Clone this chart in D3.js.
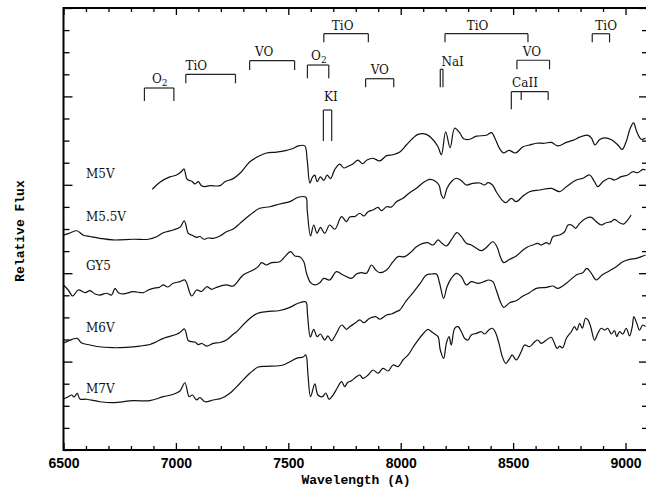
<!DOCTYPE html>
<html>
<head>
<meta charset="utf-8">
<script src="https://cdn.jsdelivr.net/npm/d3@7/dist/d3.min.js"></script>
<style>
  html, body { margin: 0; padding: 0; background: #fff; }
  svg { display: block; }
</style>
</head>
<body>
<svg id="chart" width="646" height="491"></svg>
<script>
// ---------------- DATA ----------------
// Wavelength (Angstrom) and relative flux (offset for display)
const seriesNames = ["M5V", "M5.5V", "GY5", "M6V", "M7V"];
const seriesLabelWave = 6600;
const seriesLabelFlux = [3.08, 2.585, 2.04, 1.336, 0.65];

const m5v = [
[6895,2.95],[6929,3.03],[6973,3.09],[7003,3.11],[7025,3.15],[7036,3.18],[7048,3.07],[7059,3.05],[7071,3.04],[7085,3.01],
[7099,3.035],[7114,2.99],[7129,2.98],[7151,2.99],[7196,2.99],[7218,3.035],[7255,3.07],[7285,3.13],[7329,3.26],[7366,3.32],
[7403,3.36],[7448,3.37],[7492,3.39],[7521,3.41],[7544,3.44],[7573,3.44],[7584,3.28],[7596,3.02],[7608,3.09],[7618,3.11],
[7628,3.035],[7643,3.09],[7658,3.05],[7673,3.11],[7688,3.07],[7707,3.175],[7729,3.235],[7747,3.19],[7766,3.21],[7787,3.235],
[7810,3.28],[7830,3.24],[7850,3.28],[7877,3.30],[7907,3.27],[7937,3.33],[7966,3.34],[7996,3.37],[8025,3.45],[8055,3.53],
[8077,3.57],[8114,3.57],[8144,3.51],[8166,3.43],[8181,3.34],[8200,3.60],[8220,3.42],[8240,3.64],[8262,3.59],[8280,3.52],
[8307,3.515],[8337,3.55],[8381,3.56],[8404,3.59],[8422,3.51],[8440,3.41],[8458,3.36],[8481,3.39],[8511,3.36],[8544,3.43],
[8573,3.45],[8603,3.47],[8640,3.47],[8670,3.48],[8699,3.44],[8737,3.48],[8773,3.51],[8796,3.54],[8833,3.56],[8848,3.53],
[8865,3.45],[8884,3.51],[8907,3.53],[8937,3.51],[8966,3.45],[8985,3.40],[9003,3.49],[9021,3.64],[9036,3.70],[9050,3.60],
[9070,3.515],[9089,3.53]
];

const m55v = [
[6500,2.43],[6529,2.455],[6559,2.48],[6588,2.43],[6618,2.415],[6662,2.395],[6721,2.376],[6810,2.384],[6877,2.384],[6914,2.413],
[6944,2.458],[6988,2.489],[7018,2.519],[7037,2.591],[7055,2.451],[7070,2.432],[7092,2.406],[7107,2.415],[7124,2.384],[7142,2.398],
[7166,2.395],[7196,2.421],[7225,2.469],[7255,2.50],[7285,2.564],[7329,2.658],[7373,2.734],[7418,2.752],[7462,2.783],[7507,2.809],
[7544,2.859],[7578,2.859],[7584,2.715],[7599,2.421],[7613,2.545],[7628,2.451],[7643,2.519],[7662,2.451],[7684,2.545],[7707,2.497],
[7737,2.639],[7759,2.583],[7773,2.636],[7796,2.641],[7818,2.678],[7836,2.647],[7855,2.696],[7877,2.715],[7899,2.745],[7914,2.707],
[7937,2.752],[7959,2.749],[7981,2.809],[8010,2.847],[8040,2.911],[8070,2.96],[8099,3.024],[8129,3.062],[8151,3.046],[8170,2.998],
[8181,2.885],[8191,2.847],[8206,2.96],[8225,3.035],[8248,3.074],[8270,3.046],[8292,2.998],[8321,3.017],[8351,3.02],[8373,2.998],
[8388,3.024],[8408,2.998],[8425,2.922],[8448,2.836],[8467,2.798],[8492,2.847],[8514,2.809],[8544,2.873],[8573,2.922],[8618,2.941],
[8670,2.96],[8707,2.922],[8737,2.979],[8781,3.054],[8810,3.074],[8840,3.111],[8862,3.035],[8877,2.979],[8899,3.035],[8929,3.074],
[8951,3.054],[8981,3.092],[9010,3.111],[9032,3.148],[9055,3.137],[9077,3.175],[9089,3.167]
];

const gy5 = [
[6500,1.867],[6521,1.81],[6541,1.742],[6566,1.81],[6596,1.78],[6618,1.802],[6640,1.765],[6662,1.753],[6692,1.773],[6714,1.753],
[6729,1.829],[6744,1.78],[6766,1.765],[6810,1.791],[6855,1.78],[6877,1.81],[6899,1.829],[6926,1.84],[6944,1.867],[6964,1.844],
[6988,1.886],[7018,1.904],[7040,1.923],[7070,1.742],[7092,1.81],[7114,1.793],[7137,1.847],[7159,1.818],[7181,1.84],[7225,1.867],
[7255,1.855],[7299,1.98],[7344,2.036],[7366,2.074],[7381,2.119],[7403,2.093],[7425,2.119],[7462,2.13],[7485,2.187],[7510,2.244],
[7529,2.195],[7551,2.187],[7569,2.13],[7581,1.999],[7599,1.893],[7618,1.867],[7640,1.893],[7658,1.942],[7684,1.923],[7714,2.017],
[7744,1.98],[7781,1.942],[7803,1.991],[7825,2.006],[7848,1.999],[7870,2.093],[7889,2.036],[7907,2.006],[7937,2.036],[7966,2.13],
[7988,2.187],[8018,2.187],[8048,2.244],[8070,2.30],[8099,2.338],[8121,2.345],[8144,2.319],[8166,2.376],[8181,2.345],[8203,2.308],
[8225,2.376],[8250,2.458],[8270,2.413],[8292,2.338],[8314,2.319],[8337,2.282],[8359,2.255],[8381,2.291],[8410,2.356],[8428,2.30],
[8443,2.187],[8458,2.119],[8485,2.157],[8514,2.195],[8544,2.262],[8566,2.30],[8588,2.319],[8610,2.338],[8625,2.319],[8648,2.345],
[8662,2.33],[8677,2.413],[8707,2.432],[8729,2.469],[8744,2.545],[8760,2.545],[8778,2.508],[8796,2.564],[8825,2.621],[8848,2.632],
[8870,2.583],[8892,2.545],[8914,2.571],[8937,2.583],[8951,2.61],[8973,2.571],[8991,2.556],[9010,2.602],[9025,2.658]
];

const m6v = [
[6500,1.21],[6521,1.233],[6538,1.252],[6561,1.263],[6581,1.21],[6618,1.188],[6648,1.171],[6721,1.157],[6781,1.162],[6840,1.176],
[6884,1.193],[6914,1.225],[6944,1.263],[7003,1.31],[7018,1.329],[7038,1.369],[7055,1.239],[7070,1.225],[7085,1.222],[7099,1.193],
[7116,1.205],[7137,1.176],[7166,1.207],[7196,1.216],[7225,1.244],[7255,1.309],[7270,1.338],[7314,1.454],[7359,1.542],[7403,1.565],
[7462,1.578],[7507,1.614],[7544,1.66],[7578,1.674],[7585,1.546],[7598,1.278],[7613,1.365],[7628,1.282],[7643,1.312],[7662,1.244],
[7676,1.29],[7692,1.237],[7714,1.32],[7737,1.414],[7759,1.365],[7773,1.395],[7796,1.433],[7818,1.471],[7836,1.44],[7862,1.49],
[7889,1.508],[7907,1.479],[7937,1.527],[7959,1.538],[7981,1.565],[7996,1.584],[8025,1.689],[8055,1.78],[8085,1.878],[8114,1.98],
[8137,1.991],[8159,1.991],[8173,1.886],[8191,1.716],[8206,1.847],[8225,1.942],[8248,1.999],[8270,1.961],[8292,1.867],[8314,1.904],
[8344,1.886],[8366,1.90],[8392,1.923],[8410,1.904],[8425,1.81],[8443,1.678],[8458,1.614],[8485,1.666],[8514,1.689],[8544,1.742],
[8573,1.78],[8603,1.829],[8648,1.84],[8677,1.855],[8699,1.829],[8737,1.886],[8781,1.98],[8810,2.006],[8828,2.055],[8848,1.999],
[8870,1.923],[8896,1.98],[8929,2.028],[8959,2.074],[8988,2.13],[9018,2.157],[9048,2.168],[9070,2.187],[9089,2.206]
];

const m7v = [
[6500,0.577],[6521,0.603],[6536,0.622],[6547,0.60],[6561,0.641],[6573,0.577],[6603,0.574],[6662,0.546],[6721,0.535],[6810,0.558],
[6884,0.558],[6944,0.603],[6988,0.63],[7018,0.668],[7040,0.761],[7059,0.603],[7073,0.622],[7092,0.566],[7107,0.594],[7129,0.546],
[7166,0.566],[7203,0.585],[7240,0.641],[7285,0.755],[7329,0.868],[7366,0.939],[7403,0.947],[7448,0.95],[7477,0.962],[7507,0.999],
[7536,1.037],[7566,1.052],[7578,1.075],[7587,0.868],[7599,0.603],[7618,0.747],[7632,0.622],[7652,0.603],[7667,0.645],[7681,0.574],
[7699,0.622],[7717,0.698],[7737,0.773],[7751,0.718],[7764,0.764],[7781,0.784],[7803,0.829],[7818,0.848],[7832,0.811],[7855,0.848],
[7877,0.905],[7899,0.868],[7921,0.924],[7944,0.894],[7966,0.962],[7988,0.943],[8010,1.018],[8033,1.075],[8055,1.162],[8077,1.244],
[8099,1.312],[8121,1.365],[8137,1.338],[8151,1.312],[8166,1.282],[8176,1.131],[8191,1.037],[8203,1.207],[8215,1.282],[8225,1.188],
[8240,1.377],[8255,1.395],[8270,1.338],[8284,1.264],[8299,1.244],[8314,1.301],[8337,1.32],[8359,1.338],[8373,1.312],[8392,1.357],
[8408,1.377],[8422,1.327],[8437,1.207],[8452,1.056],[8467,0.981],[8485,1.037],[8496,1.075],[8514,1.018],[8536,1.112],[8551,1.188],
[8573,1.169],[8596,1.225],[8610,1.244],[8625,1.207],[8648,1.244],[8670,1.275],[8684,1.207],[8695,1.15],[8707,1.176],[8720,1.154],
[8737,1.264],[8759,1.338],[8773,1.395],[8784,1.357],[8796,1.433],[8808,1.377],[8822,1.49],[8833,1.471],[8845,1.395],[8862,1.244],
[8877,1.32],[8892,1.377],[8907,1.357],[8921,1.377],[8937,1.312],[8951,1.35],[8961,1.282],[8973,1.338],[8988,1.312],[9003,1.377],
[9018,1.29],[9030,1.395],[9037,1.508],[9050,1.433],[9062,1.357],[9077,1.414],[9089,1.395]
];

const seriesData = [m5v, m55v, gy5, m6v, m7v];

// Absorption band annotations: label, label position, bar level and legs [wavelength, bottom flux]
const bandLabels   = ["O2", "TiO", "VO", "O2", "TiO", "KI", "VO", "NaI", "TiO", "VO", "CaII", "TiO"];
const bandLabelWave = [6928, 7091, 7393, 7636, 7742, 7689, 7907, 8231, 8342, 8584, 8553, 8914];
const bandLabelFlux = [4.148, 4.299, 4.457, 4.412, 4.751, 3.951, 4.253, 4.347, 4.751, 4.457, 4.103, 4.751];
const bandBarFlux   = [4.095, 4.25, 4.404, 4.355, 4.709, 3.846, 4.20, 4.307, 4.709, 4.409, 4.053, 4.709];
const bandLegs = [
  [[6860, 3.948], [6991, 3.948]],
  [[7044, 4.148], [7265, 4.148]],
  [[7328, 4.299], [7528, 4.299]],
  [[7585, 4.205], [7680, 4.205]],
  [[7658, 4.612], [7856, 4.612]],
  [[7656, 3.495], [7693, 3.495]],
  [[7844, 4.103], [7969, 4.103]],
  [[8176, 4.103], [8188, 4.103]],
  [[8197, 4.612], [8566, 4.612]],
  [[8517, 4.307], [8662, 4.307]],
  [[8492, 3.854], [8536, 3.959], [8656, 3.959]],
  [[8852, 4.612], [8929, 4.612]]
];

const xMajorTicks = [6500, 7000, 7500, 8000, 8500, 9000];
const xMinorTicks = [6600,6700,6800,6900,7100,7200,7300,7400,7600,7700,7800,7900,8100,8200,8300,8400,8600,8700,8800,8900,9100];
const yMajorTicks = [0, 1, 2, 3, 4, 5];
const yMinorTicks = [0.25,0.5,0.75,1.25,1.5,1.75,2.25,2.5,2.75,3.25,3.5,3.75,4.25,4.5,4.75];

// ---------------- CHART ----------------
const svg = d3.select("#chart");
const L = 63.5, R = 648, T = 8, B = 450;
const x = d3.scaleLinear().domain([6500, 9100]).range([L, R]);
const y = d3.scaleLinear().domain([0, 5]).range([B, T]);

const tickStyle = g => {
  g.select(".domain").remove();
  g.selectAll(".tick line").attr("stroke", "#000").attr("stroke-width", 1.3);
};

// bottom axis with labels
svg.append("g").attr("transform", `translate(0,${B})`)
  .call(d3.axisBottom(x).tickValues(xMajorTicks).tickSize(-7).tickPadding(8).tickFormat(d3.format("d")))
  .call(tickStyle)
  .call(g => g.selectAll("text")
    .attr("font-family", "'Liberation Sans', Arial, sans-serif")
    .attr("font-weight", "bold").attr("font-size", 14).attr("fill", "#000"));
svg.append("g").attr("transform", `translate(0,${B})`)
  .call(d3.axisBottom(x).tickValues(xMinorTicks).tickSize(-4).tickFormat(""))
  .call(tickStyle);
// top axis
svg.append("g").attr("transform", `translate(0,${T})`)
  .call(d3.axisTop(x).tickValues(xMajorTicks).tickSize(-7).tickFormat(""))
  .call(tickStyle);
svg.append("g").attr("transform", `translate(0,${T})`)
  .call(d3.axisTop(x).tickValues(xMinorTicks).tickSize(-4).tickFormat(""))
  .call(tickStyle);
// left axis
svg.append("g").attr("transform", `translate(${L},0)`)
  .call(d3.axisLeft(y).tickValues(yMajorTicks).tickSize(-9).tickFormat(""))
  .call(tickStyle);
svg.append("g").attr("transform", `translate(${L},0)`)
  .call(d3.axisLeft(y).tickValues(yMinorTicks).tickSize(-6).tickFormat(""))
  .call(tickStyle);
// right axis
svg.append("g").attr("transform", `translate(${R},0)`)
  .call(d3.axisRight(y).tickValues(yMajorTicks).tickSize(-9).tickFormat(""))
  .call(tickStyle);
svg.append("g").attr("transform", `translate(${R},0)`)
  .call(d3.axisRight(y).tickValues(yMinorTicks).tickSize(-6).tickFormat(""))
  .call(tickStyle);

// frame
svg.append("rect").attr("x", L).attr("y", T).attr("width", R - L).attr("height", B - T)
  .attr("fill", "none").attr("stroke", "#000").attr("stroke-width", 2);

// axis titles
const monoFont = "'Liberation Mono', 'DejaVu Sans Mono', monospace";
svg.append("text").attr("x", 356).attr("y", 484).attr("text-anchor", "middle")
  .attr("font-family", monoFont).attr("font-weight", "bold").attr("font-size", 13)
  .text("Wavelength (A)");
svg.append("text").attr("transform", "translate(24,231) rotate(-90)").attr("text-anchor", "middle")
  .attr("font-family", monoFont).attr("font-weight", "bold").attr("font-size", 13)
  .text("Relative Flux");

// spectra
const line = d3.line().x(d => x(d[0])).y(d => y(d[1])).curve(d3.curveCatmullRom.alpha(0.5));
svg.append("g").selectAll("path").data(seriesData).join("path")
  .attr("d", line).attr("fill", "none").attr("stroke", "#111").attr("stroke-width", 1.2)
  .attr("stroke-linejoin", "round");

// series labels
const serif = "'DejaVu Serif', 'Liberation Serif', serif";
svg.append("g").selectAll("text").data(seriesNames).join("text")
  .attr("x", x(seriesLabelWave)).attr("y", (d, i) => y(seriesLabelFlux[i]))
  .attr("font-family", serif).attr("font-size", 12).attr("fill", "#111")
  .text(d => d);

// band brackets
const bands = bandLabels.map((lab, i) => ({lab, lw: bandLabelWave[i], lf: bandLabelFlux[i], bar: bandBarFlux[i], legs: bandLegs[i]}));
const bg = svg.append("g").attr("stroke", "#222").attr("stroke-width", 1.2).attr("fill", "none");
bands.forEach(b => {
  const w0 = d3.min(b.legs, d => d[0]), w1 = d3.max(b.legs, d => d[0]);
  bg.append("line").attr("x1", x(w0)).attr("x2", x(w1)).attr("y1", y(b.bar)).attr("y2", y(b.bar));
  b.legs.forEach(l => {
    bg.append("line").attr("x1", x(l[0])).attr("x2", x(l[0])).attr("y1", y(b.bar)).attr("y2", y(l[1]));
  });
});
const lg = svg.append("g").attr("font-family", serif).attr("font-size", 12).attr("fill", "#111").attr("text-anchor", "middle");
bands.forEach(b => {
  const t = lg.append("text").attr("x", x(b.lw)).attr("y", y(b.lf));
  if (b.lab === "O2") {
    t.append("tspan").text("O");
    t.append("tspan").attr("font-size", 9).attr("dy", 3).text("2");
  } else {
    t.text(b.lab);
  }
});
</script>
</body>
</html>
